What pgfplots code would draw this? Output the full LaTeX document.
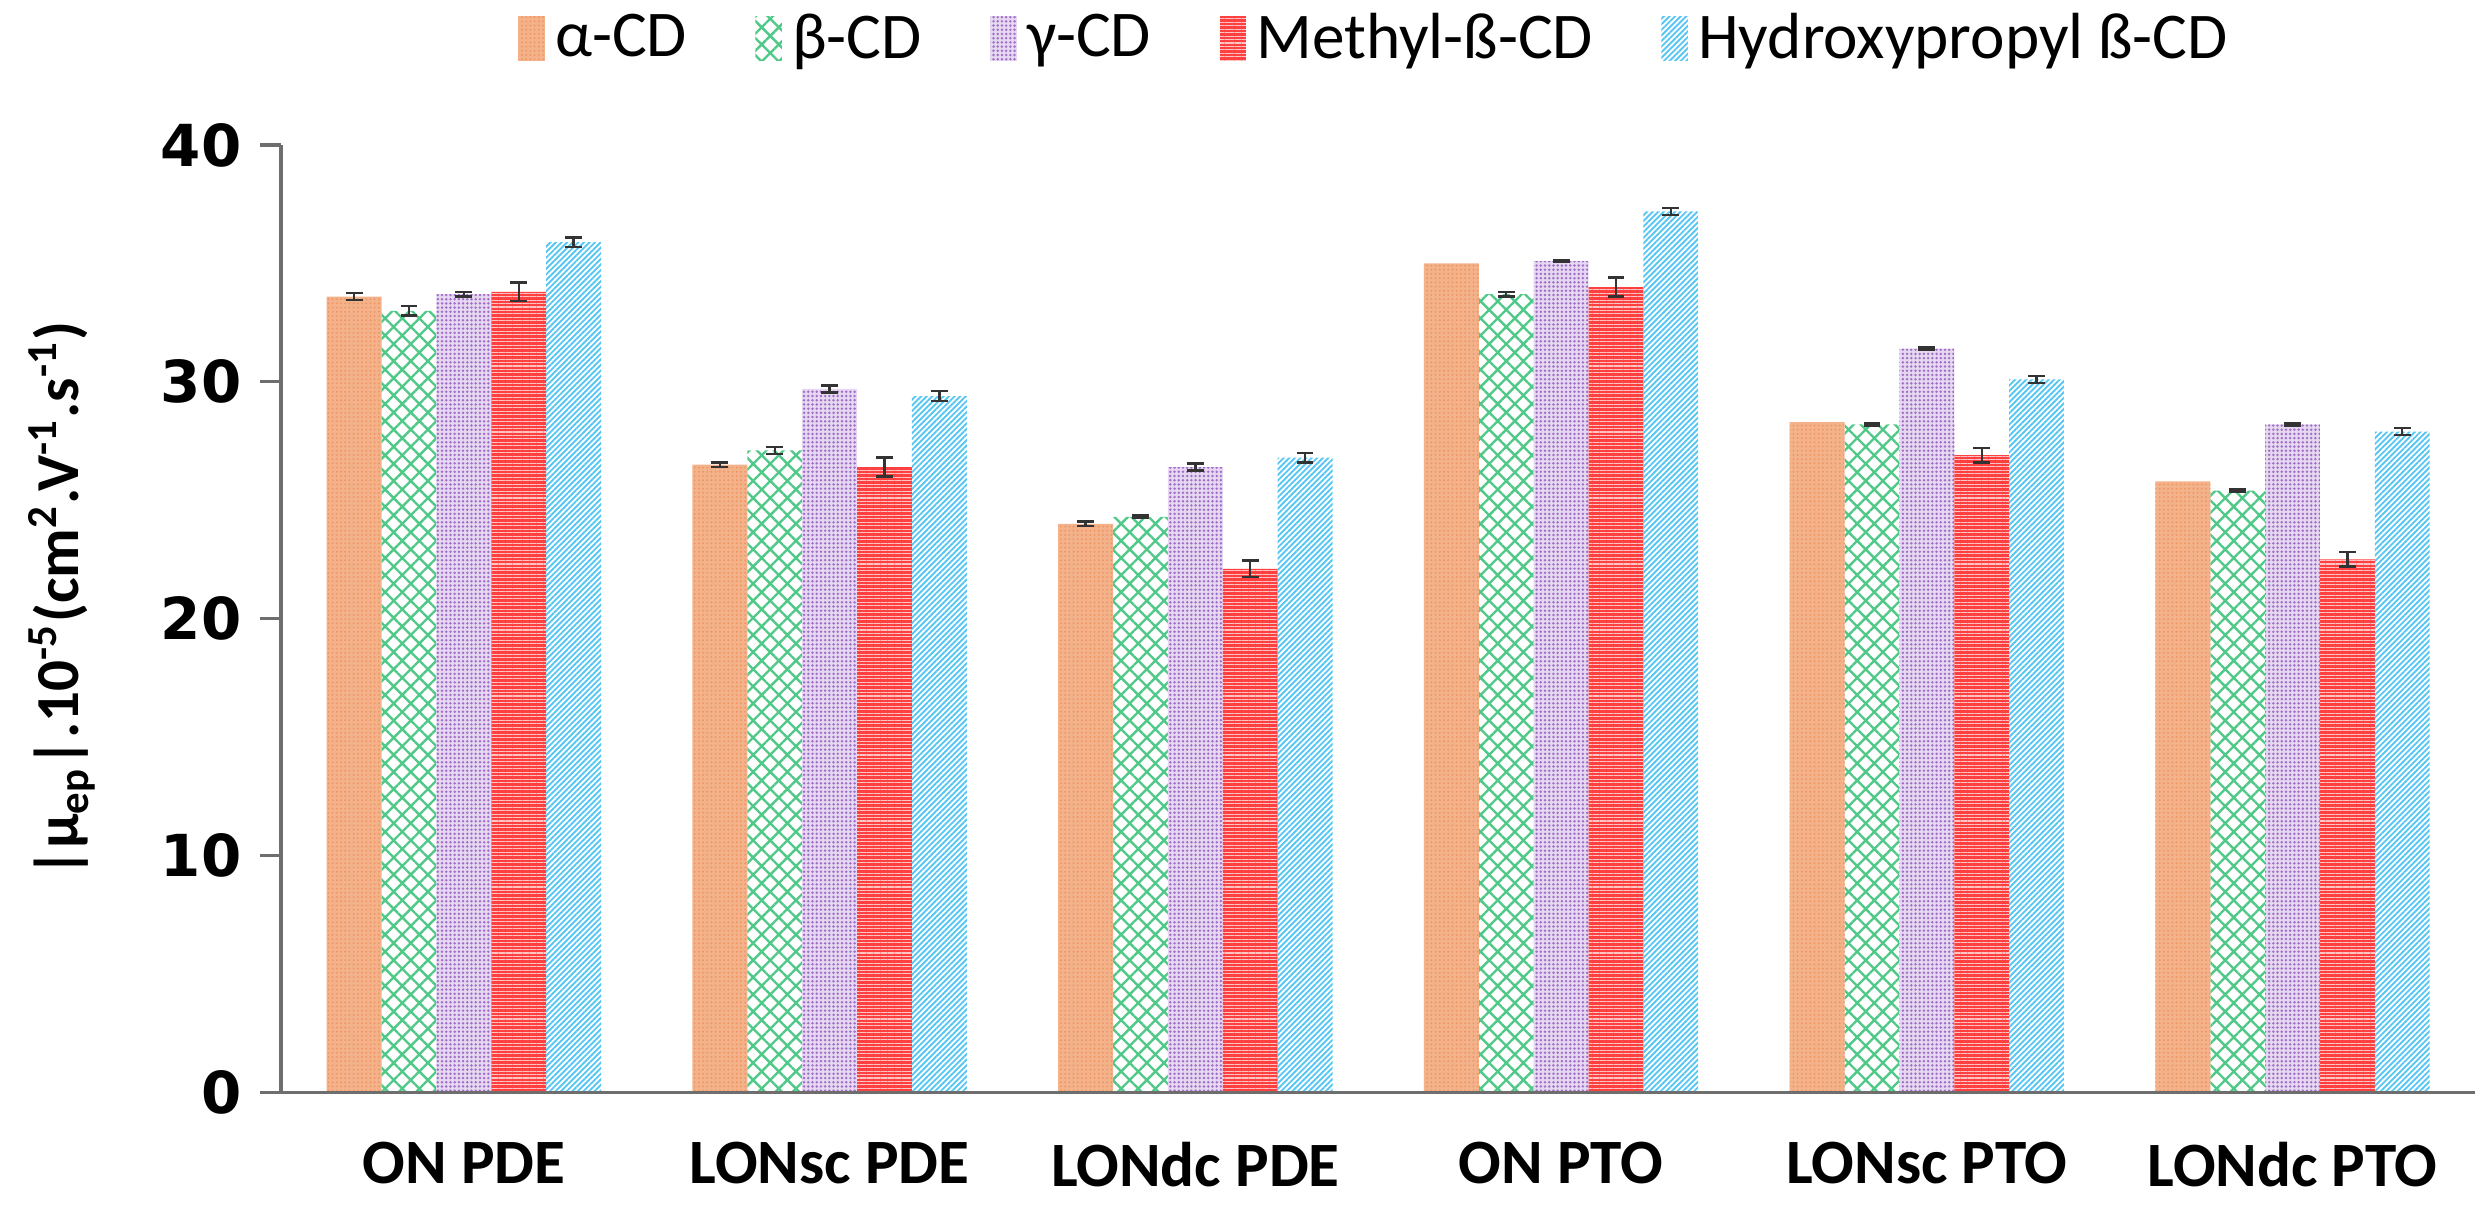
\documentclass[border=0pt]{standalone}
\usepackage{fontspec}
\setmainfont{Carlito}
\newfontfamily\tickfont{DejaVu Sans}
\usepackage{pgfplots}
\usepackage{pgfplotstable}
\pgfplotsset{compat=1.18}
\usetikzlibrary{patterns,patterns.meta}
\definecolor{cA}{RGB}{244,178,138}
\definecolor{cAd}{RGB}{238,150,100}
\definecolor{cB}{RGB}{80,200,136}
\definecolor{cG}{RGB}{160,110,200}
\definecolor{cGl}{RGB}{230,216,240}
\definecolor{cM}{RGB}{255,64,64}
\definecolor{cMl}{RGB}{255,196,196}
\definecolor{cH}{RGB}{88,198,242}
\definecolor{axgray}{RGB}{110,110,110}

\pgfplotstableread{
x a ae b be g ge m me h he
0 33.6 0.15 33.0 0.20 33.7 0.10 33.8 0.40 35.9 0.20
1 26.5 0.10 27.1 0.15 29.7 0.15 26.4 0.40 29.4 0.20
2 24.0 0.10 24.3 0.05 26.4 0.15 22.1 0.35 26.8 0.20
}\dataA
\pgfplotstableread{
x a ae b be g ge m me h he
3 35.0 0 33.7 0.10 35.1 0.05 34.0 0.40 37.2 0.15
4 28.3 0 28.2 0.05 31.4 0.05 26.9 0.30 30.1 0.15
5 25.8 0 25.4 0.05 28.2 0.05 22.5 0.30 27.9 0.15
}\dataB
\pgfplotstableread{
x a ae b be g ge m me h he
0 33.6 0.15 33.0 0.20 33.7 0.10 33.8 0.40 35.9 0.20
1 26.5 0.10 27.1 0.15 29.7 0.15 26.4 0.40 29.4 0.20
2 24.0 0.10 24.3 0.05 26.4 0.15 22.1 0.35 26.8 0.20
3 35.0 0 33.7 0.10 35.1 0.05 34.0 0.40 37.2 0.15
4 28.3 0 28.2 0.05 31.4 0.05 26.9 0.30 30.1 0.15
5 25.8 0 25.4 0.05 28.2 0.05 22.5 0.30 27.9 0.15
}\dataAll

\begin{document}
\begin{tikzpicture}
\begin{axis}[
  scale only axis,
  width=417pt, height=180pt,
  xmin=-0.5, xmax=5.5,
  ymin=0, ymax=40,
  ytick={0,10,20,30,40},
  xtick={0,1,2,3,4,5},
  xticklabels={ON PDE, LONsc PDE, LONdc PDE, ON PTO, LONsc PTO, LONdc PTO},
  axis line style={draw=none},
  tick pos=left,
  tick align=outside,
  major tick length=4pt,
  ytick style={draw=axgray, line width=0.6pt},
  xtick style={draw=none},
  /pgf/number format/assume math mode=true,
  yticklabel style={font=\fontsize{11}{12}\selectfont\tickfont\bfseries},
  xticklabel style={font=\fontsize{12}{14}\selectfont\bfseries, yshift=-2pt},
  ylabel={\bfseries |μ\textsubscript{ep}|.10\textsuperscript{-5}(cm\textsuperscript{2}.V\textsuperscript{-1}.s\textsuperscript{-1})},
  ylabel style={font=\fontsize{11.6}{14}\selectfont, at={(axis description cs:-0.1,0.52)}, anchor=center},
  ybar, bar width=0.15,
  legend columns=5,
  legend style={draw=none, at={(0.5,1)}, anchor=center, yshift=20pt, inner ysep=0.5pt,
    font=\fontsize{12.4}{14}\selectfont,
    /tikz/every even column/.append style={column sep=11pt}},
  legend image code/.code={\draw[#1, draw=none] (-1pt,-4pt) rectangle (4pt,4.5pt);},
  error bars/y dir=both, error bars/y explicit,
  error bars/error bar style={draw=black!80, line width=0.45pt},
  error bars/error mark options={rotate=90, mark size=1.6pt, line width=0.45pt, draw=black!80},
  clip=false,
]
% alpha-CD
\addplot[draw=none, fill=cA, bar shift=-0.3,
  postaction={pattern={Dots[distance=0.8pt, radius=0.2pt]}, pattern color=cAd}]
  table[x=x, y=a, y error=ae] {\dataA};
\addlegendentry{α-CD}
% beta-CD
\addplot[draw=none, bar shift=-0.15,
  pattern={Hatch[angle=45, distance=2.3pt, line width=0.45pt]}, pattern color=cB]
  table[x=x, y=b, y error=be] {\dataAll};
\addlegendentry{β-CD}
% gamma-CD
\addplot[draw=none, bar shift=0, fill=cGl,
  postaction={pattern={Dots[distance=0.8pt, radius=0.26pt]}, pattern color=cG}]
  table[x=x, y=g, y error=ge] {\dataAll};
\addlegendentry{γ-CD}
% methyl-beta-CD
\addplot[draw=none, bar shift=0.15, fill=cM,
  postaction={pattern={Lines[angle=0, distance=0.66pt, line width=0.2pt]}, pattern color=cMl}]
  table[x=x, y=m, y error=me] {\dataAll};
\addlegendentry{Methyl-ß-CD}
% hydroxypropyl-beta-CD
\addplot[draw=none, bar shift=0.3,
  pattern={Lines[angle=45, distance=0.75pt, line width=0.36pt]}, pattern color=cH]
  table[x=x, y=h, y error=he] {\dataAll};
\addlegendentry{Hydroxypropyl ß-CD}
% alpha-CD, groups without error bars
\addplot[draw=none, fill=cA, bar shift=-0.3, forget plot,
  postaction={pattern={Dots[distance=0.8pt, radius=0.2pt]}, pattern color=cAd},
  error bars/y dir=none]
  table[x=x, y=a] {\dataB};
\draw[axgray, line width=0.6pt] (rel axis cs:0,1) -- (rel axis cs:0,0) -- (rel axis cs:1,0);
\path (rel axis cs:0,0) ++(-53.4pt,-23.7pt);
\end{axis}
\end{tikzpicture}
\end{document}
